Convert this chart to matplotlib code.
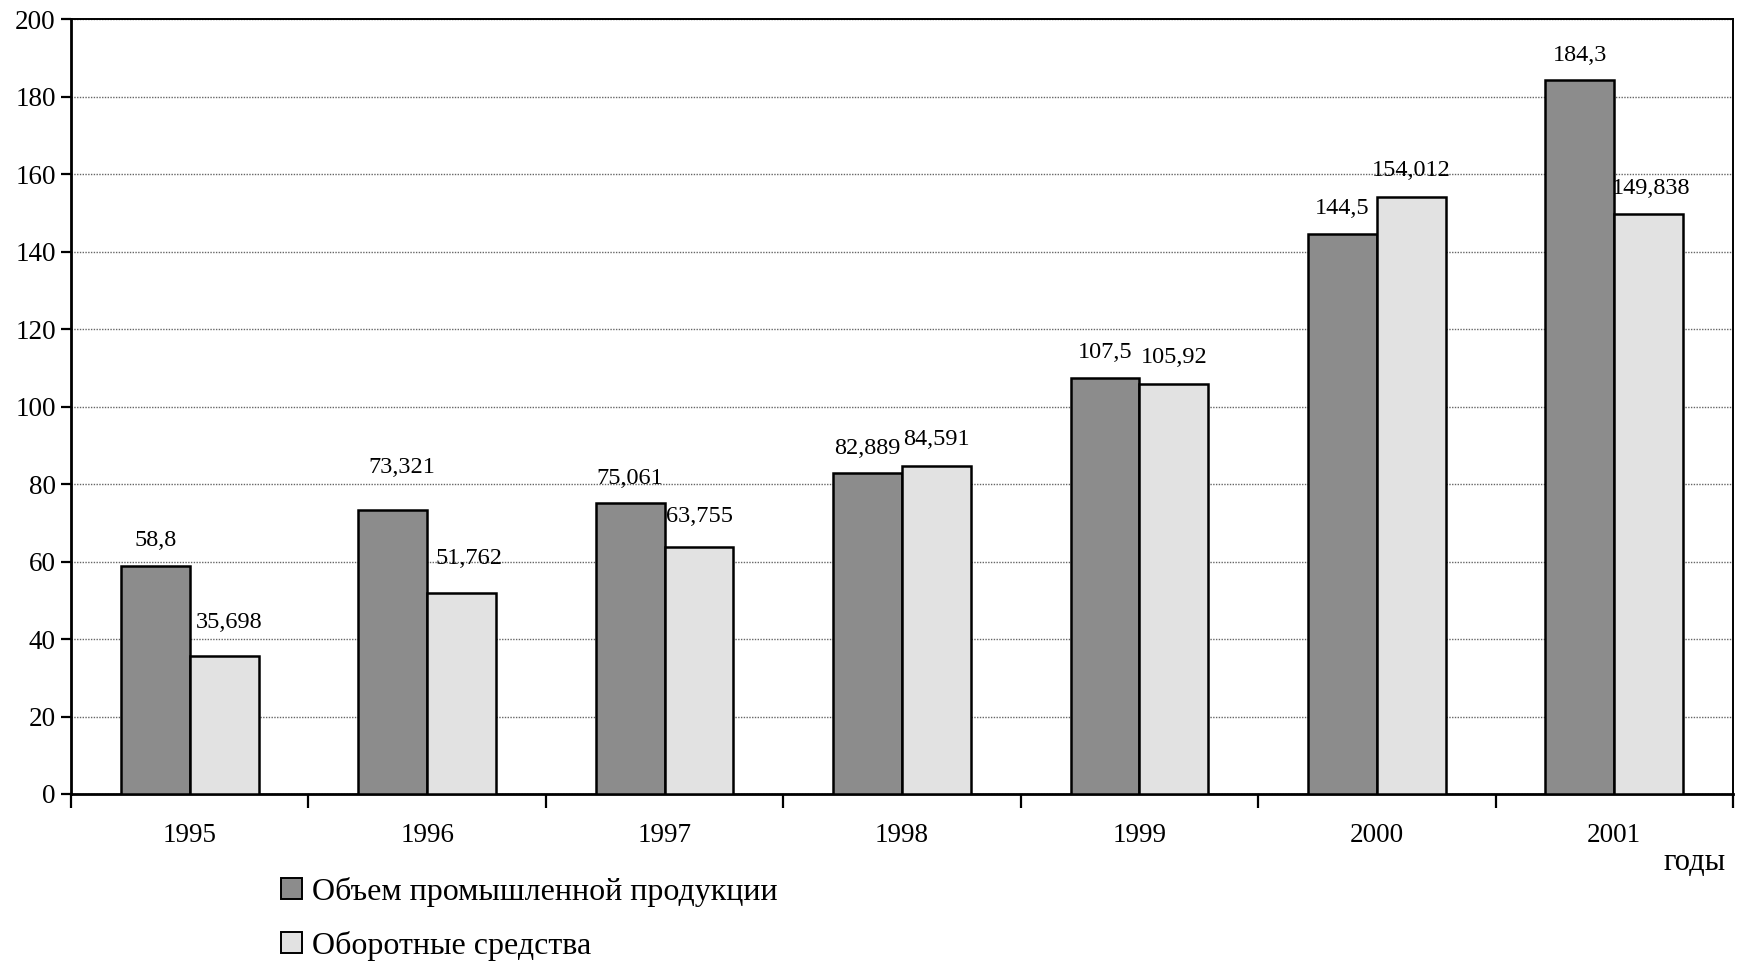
import matplotlib
matplotlib.use("Agg")
import matplotlib.pyplot as plt
from matplotlib.patches import Patch
import numpy as np

years = ["1995", "1996", "1997", "1998", "1999", "2000", "2001"]
production = [58.8, 73.321, 75.061, 82.889, 107.5, 144.5, 184.3]
working_capital = [35.698, 51.762, 63.755, 84.591, 105.92, 154.012, 149.838]
series_names = ["Объем промышленной продукции", "Оборотные средства"]
yticks = list(range(0, 201, 20))

plt.rcParams['font.family'] = ['Liberation Serif', 'DejaVu Serif']

fig = plt.figure(figsize=(17.37, 9.63), dpi=100)
ax = fig.add_axes([0.0409, 0.1755, 0.9568, 0.8045])

x = np.arange(len(years))
w = 0.29
dark = '#8c8c8c'
light = '#e2e2e2'
ax.bar(x - w / 2, production, width=w, color=dark, edgecolor='black', linewidth=1.8, zorder=3)
ax.bar(x + w / 2, working_capital, width=w, color=light, edgecolor='black', linewidth=1.8, zorder=3)

# label offsets (style only)
dy_a = [6.6, 11.0, 6.3, 6.2, 6.5, 6.6, 6.3]
dy_b = [8.6, 9.1, 8.0, 6.8, 6.7, 6.9, 6.5]
dx_a = [0, 0.04, 0, 0, 0, 0, 0]
dx_b = [0.02, 0.03, 0, 0, 0, 0, 0.01]

def fmt(v):
    return str(v).replace('.', ',')

for i in range(len(years)):
    ax.text(x[i] - w / 2 + dx_a[i], production[i] + dy_a[i], fmt(production[i]),
            ha='center', va='center', fontsize=17.5, zorder=4)
    ax.text(x[i] + w / 2 + dx_b[i], working_capital[i] + dy_b[i], fmt(working_capital[i]),
            ha='center', va='center', fontsize=17.5, zorder=4)

ax.set_xlim(-0.5, len(years) - 0.5)
ax.set_ylim(0, 200)
ax.set_yticks(yticks)
ax.set_yticklabels([str(t) for t in yticks], fontsize=19.5)
ax.yaxis.grid(True, linestyle=(0, (1, 1)), color='#666666', linewidth=1.0, zorder=0)

ax.set_xticks(x)
ax.set_xticklabels(years, fontsize=19.5)
ax.tick_params(axis='x', which='major', length=0, pad=21)
ax.set_xticks(np.arange(-0.5, len(years), 1.0), minor=True)
ax.tick_params(axis='x', which='minor', length=10, width=1.6, direction='out')
ax.tick_params(axis='y', length=7, width=1.6, direction='out', pad=4)

for s in ['left', 'bottom']:
    ax.spines[s].set_linewidth(2.0)
for s in ['top', 'right']:
    ax.spines[s].set_linewidth(1.4)

fig.text(0.9935, 0.104, 'годы', ha='right', va='center', fontsize=22)

handles = [Patch(facecolor=dark, edgecolor='black', linewidth=1.4),
           Patch(facecolor=light, edgecolor='black', linewidth=1.4)]
fig.legend(handles, series_names, loc='center left', bbox_to_anchor=(0.162, 0.046),
           frameon=False, fontsize=23, handlelength=0.65, handleheight=0.65,
           handletextpad=0.3, labelspacing=0.75, borderaxespad=0, borderpad=0)

fig.savefig('out.png', dpi=100)
